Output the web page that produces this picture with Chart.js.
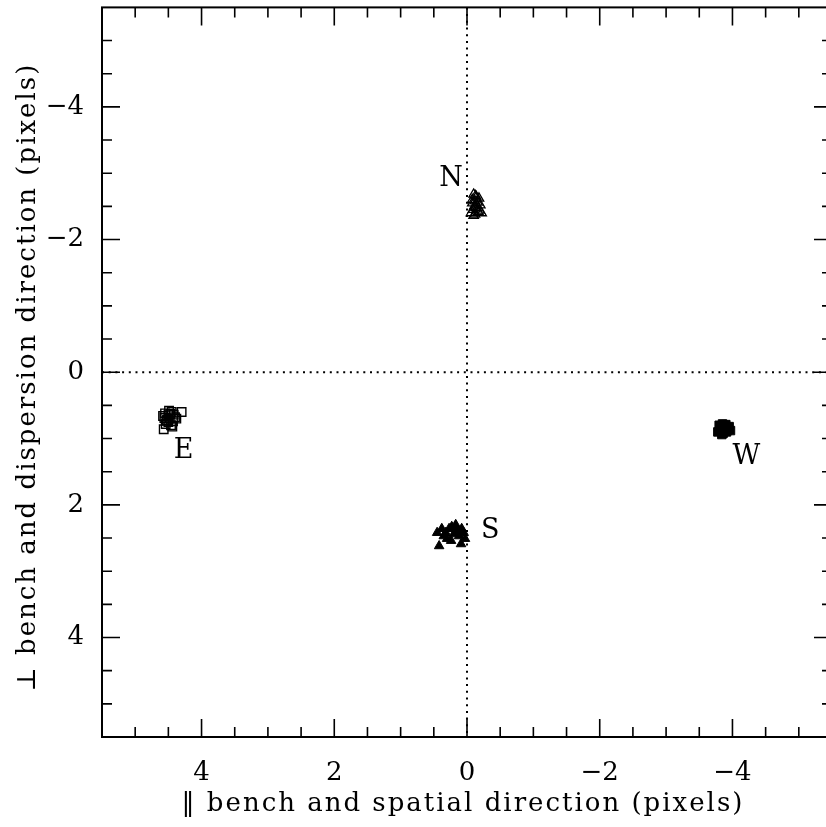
<!DOCTYPE html>
<html>
<head>
<meta charset="utf-8">
<script src="https://cdn.jsdelivr.net/npm/chart.js@4.4.1/dist/chart.umd.min.js"></script>
<style>
  html, body { margin: 0; padding: 0; background: #fff; overflow: hidden; }
  #wrap { width: 846px; height: 827px; }
</style>
</head>
<body>
<div id="wrap"><canvas id="chart" width="846" height="827"></canvas></div>
<script>
// offsets in pixels
const nX = [-0.10, -0.14, -0.18, -0.12, -0.08, -0.16, -0.20, -0.11, -0.13, -0.09, -0.15, -0.17, -0.06, -0.12, -0.19, -0.10, -0.14, -0.08, -0.22, -0.13];
const nY = [-2.68, -2.64, -2.62, -2.58, -2.55, -2.56, -2.52, -2.50, -2.48, -2.45, -2.47, -2.42, -2.40, -2.38, -2.44, -2.36, -2.53, -2.60, -2.40, -2.66];

const eX = [4.55, 4.50, 4.45, 4.40, 4.52, 4.48, 4.58, 4.43, 4.38, 4.54, 4.47, 4.50, 4.42, 4.56, 4.46, 4.30, 4.57, 4.44, 4.49, 4.53];
const eY = [0.62, 0.65, 0.60, 0.68, 0.72, 0.70, 0.66, 0.74, 0.70, 0.78, 0.63, 0.75, 0.64, 0.69, 0.80, 0.60, 0.86, 0.82, 0.58, 0.73];

const sX = [0.17, 0.42, 0.09, 0.35, 0.27, 0.05, 0.24, 0.12, 0.38, 0.20, 0.30, 0.03, 0.15, 0.45, 0.08, 0.23, 0.32];
const sY = [2.30, 2.62, 2.59, 2.47, 2.36, 2.42, 2.54, 2.47, 2.36, 2.44, 2.51, 2.51, 2.39, 2.42, 2.36, 2.33, 2.42];

const wX = [-3.80, -3.85, -3.90, -3.95, -3.82, -3.88, -3.92, -3.78, -3.86, -3.93, -3.84, -3.89, -3.97, -3.81, -3.87, -3.91];
const wY = [0.80, 0.78, 0.79, 0.82, 0.86, 0.84, 0.88, 0.90, 0.92, 0.86, 0.94, 0.82, 0.88, 0.85, 0.80, 0.90];

const labelText = ["N", "E", "S", "W"];
const labelX = [0.24, 4.27, -0.35, -4.21];
const labelY = [-2.92, 1.19, 2.39, 1.28];

const majorTicks = [-4, -2, 0, 2, 4];
const minorStep = 0.5;
const axisMin = -5.5;
const axisMax = 5.5;

const xTitle = "\u2016 bench and spatial direction (pixels)";
const yTitle = "\u22A5 bench and dispersion direction (pixels)";

const FONT = "'DejaVu Serif', 'Liberation Serif', serif";

const toPoints = (xs, ys) => xs.map((x, i) => ({ x: x, y: ys[i] }));
const fmt = (v) => (v < 0 ? "\u2212" + Math.abs(v) : String(v));

// frame, inward ticks, zero lines, titles and the N/E/S/W letters
const decorations = {
    id: "decorations",
    beforeDatasetsDraw(chart) {
        const { ctx, chartArea: a, scales: { x, y } } = chart;
        ctx.save();
        ctx.strokeStyle = "#000";
        ctx.lineWidth = 2;
        ctx.setLineDash([2, 4.7]);
        const x0 = x.getPixelForValue(0);
        const y0 = y.getPixelForValue(0);
        ctx.beginPath();
        ctx.moveTo(x0, a.top); ctx.lineTo(x0, a.bottom);
        ctx.moveTo(a.left, y0); ctx.lineTo(a.right, y0);
        ctx.stroke();
        ctx.restore();
    },
    afterDatasetsDraw(chart) {
        const { ctx, chartArea: a, scales: { x, y } } = chart;
        ctx.save();
        ctx.strokeStyle = "#000";
        ctx.lineWidth = 2;
        ctx.strokeRect(a.left, a.top, a.right - a.left, a.bottom - a.top);

        ctx.lineWidth = 1.6;
        ctx.beginPath();
        for (let v = axisMin + minorStep; v < axisMax; v += minorStep) {
            const major = majorTicks.includes(Math.round(v * 10) / 10);
            const len = major ? 18 : 10;
            const px = x.getPixelForValue(v);
            const py = y.getPixelForValue(v);
            ctx.moveTo(px, a.bottom); ctx.lineTo(px, a.bottom - len);
            ctx.moveTo(px, a.top); ctx.lineTo(px, a.top + len);
            ctx.moveTo(a.left, py); ctx.lineTo(a.left + len, py);
            ctx.moveTo(a.right, py); ctx.lineTo(a.right - len, py);
        }
        ctx.stroke();

        ctx.fillStyle = "#000";
        ctx.font = "27px " + FONT;
        ctx.textAlign = "center";
        ctx.textBaseline = "middle";
        labelText.forEach((t, i) => {
            ctx.fillText(t, x.getPixelForValue(labelX[i]), y.getPixelForValue(labelY[i]));
        });

        // axis titles, spaced out like the original lettering
        ctx.font = "26px " + FONT;
        ctx.letterSpacing = "2px";
        ctx.fillText(xTitle, (a.left + a.right) / 2 - 4, 804);
        ctx.translate(28, (a.top + a.bottom) / 2 + 5);
        ctx.rotate(-Math.PI / 2);
        ctx.fillText(yTitle, 0, 0);
        ctx.restore();
    },
};

new Chart(document.getElementById("chart"), {
    type: "scatter",
    plugins: [decorations],
    data: {
        datasets: [
            {
                label: "N",
                data: toPoints(nX, nY),
                pointStyle: "triangle",
                pointRadius: 5.5,
                borderColor: "#000",
                backgroundColor: "rgba(0,0,0,0)",
                borderWidth: 1.3,
            },
            {
                label: "E",
                data: toPoints(eX, eY),
                pointStyle: "rect",
                pointRadius: 6,
                borderColor: "#000",
                backgroundColor: "rgba(0,0,0,0)",
                borderWidth: 1.4,
            },
            {
                label: "S",
                data: toPoints(sX, sY),
                pointStyle: "triangle",
                pointRadius: 5.5,
                borderColor: "#000",
                backgroundColor: "#000",
                borderWidth: 1,
            },
            {
                label: "W",
                data: toPoints(wX, wY),
                pointStyle: "rect",
                pointRadius: 6,
                borderColor: "#000",
                backgroundColor: "#000",
                borderWidth: 1,
            },
        ],
    },
    options: {
        responsive: false,
        animation: false,
        events: [],
        layout: { padding: { top: 5, right: 14, left: 0, bottom: 0 } },
        plugins: {
            legend: { display: false },
            tooltip: { enabled: false },
        },
        scales: {
            x: {
                type: "linear",
                reverse: true,
                min: axisMin,
                max: axisMax,
                grid: { display: false },
                border: { display: false },
                afterBuildTicks: (scale) => { scale.ticks = majorTicks.map(v => ({ value: v })); },
                afterFit: (scale) => {
                    scale.height = 90;
                    scale.paddingLeft = 0;
                    scale.paddingRight = 0;
                },
                ticks: {
                    color: "#000",
                    font: { family: FONT, size: 26 },
                    padding: 13,
                    maxRotation: 0,
                    autoSkip: false,
                    callback: fmt,
                },
            },
            y: {
                type: "linear",
                reverse: true,
                min: axisMin,
                max: axisMax,
                grid: { display: false },
                border: { display: false },
                afterBuildTicks: (scale) => { scale.ticks = majorTicks.map(v => ({ value: v })); },
                afterFit: (scale) => {
                    scale.width = 102;
                    scale.paddingTop = 0;
                    scale.paddingBottom = 0;
                },
                ticks: {
                    color: "#000",
                    font: { family: FONT, size: 26 },
                    padding: 10,
                    autoSkip: false,
                    callback: fmt,
                },
            },
        },
    },
});
</script>
</body>
</html>
